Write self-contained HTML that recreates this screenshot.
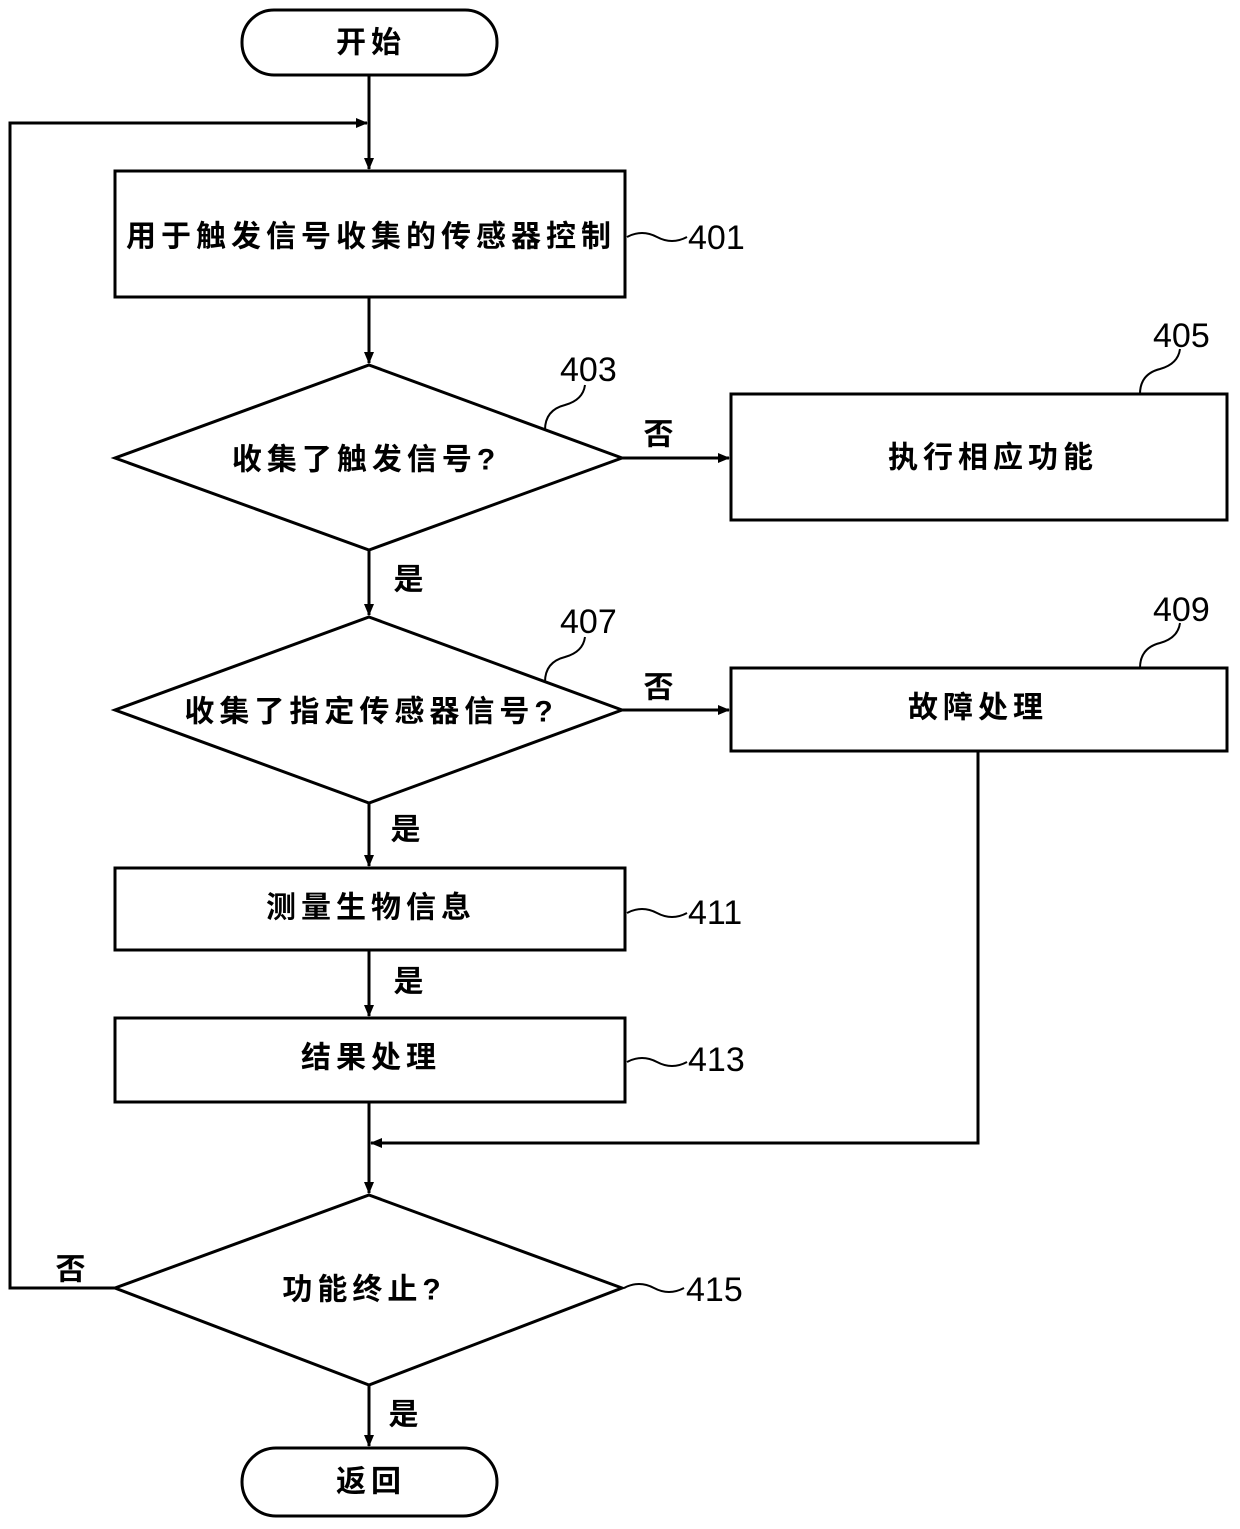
<!DOCTYPE html>
<html><head><meta charset="utf-8"><style>
html,body{margin:0;padding:0;background:#fff;}
svg{display:block;}
text{font-family:"Liberation Sans","Noto Sans CJK SC",sans-serif;fill:#000;}
.cn{font-size:30px;text-anchor:middle;dominant-baseline:central;letter-spacing:5px;font-weight:bold;}
.num{font-size:34px;font-family:"Liberation Sans",sans-serif;dominant-baseline:central;}
</style></head><body>
<svg width="1240" height="1529" viewBox="0 0 1240 1529" xmlns="http://www.w3.org/2000/svg">
<defs><marker id="a" markerWidth="12" markerHeight="10" refX="11" refY="5" orient="auto" markerUnits="userSpaceOnUse"><path d="M0,0 L12,5 L0,10 Z" fill="#000"/></marker></defs>
<g fill="none" stroke="#000" stroke-width="3">
<rect x="242" y="10" width="255" height="65" rx="32"/>
<rect x="242" y="1448" width="255" height="68" rx="34"/>
<rect x="115" y="171" width="510" height="126"/>
<rect x="731" y="394" width="496" height="126"/>
<rect x="731" y="668" width="496" height="83"/>
<rect x="115" y="868" width="510" height="82"/>
<rect x="115" y="1018" width="510" height="84"/>
<polygon points="369,365 622,458 369,550 115,458"/>
<polygon points="369,617 622,710 369,803 115,710"/>
<polygon points="369,1195 622,1288 369,1385 115,1288"/>
<line x1="369" y1="75" x2="369" y2="169" marker-end="url(#a)"/>
<polyline points="115,1288 10,1288 10,123 367,123" marker-end="url(#a)"/>
<line x1="369" y1="297" x2="369" y2="363" marker-end="url(#a)"/>
<line x1="369" y1="550" x2="369" y2="615" marker-end="url(#a)"/>
<line x1="622" y1="458" x2="729" y2="458" marker-end="url(#a)"/>
<line x1="622" y1="710" x2="729" y2="710" marker-end="url(#a)"/>
<line x1="369" y1="803" x2="369" y2="866" marker-end="url(#a)"/>
<line x1="369" y1="950" x2="369" y2="1016" marker-end="url(#a)"/>
<line x1="369" y1="1102" x2="369" y2="1193" marker-end="url(#a)"/>
<polyline points="978,751 978,1143 371,1143" marker-end="url(#a)"/>
<line x1="369" y1="1385" x2="369" y2="1446" marker-end="url(#a)"/>
<g stroke-width="2">
<path d="M627,237 q15,-8 30,0 t30,0"/>
<path d="M627,913 q15,-8 30,0 t30,0"/>
<path d="M627,1062 q15,-8 30,0 t30,0"/>
<path d="M624,1288 q15,-8 30,0 t30,0"/>
<path d="M545,430 q0,-20 20,-25 q18,-5 20,-20"/>
<path d="M545,682 q0,-20 20,-25 q18,-5 20,-20"/>
<path d="M1140,394 q0,-20 20,-25 q18,-5 20,-20"/>
<path d="M1140,668 q0,-20 20,-25 q18,-5 20,-20"/>
</g>
</g>
<text class="cn" x="371" y="237">用于触发信号收集的传感器控制</text>
<text class="cn" x="371" y="43">开始</text>
<text class="cn" x="371" y="1482">返回</text>
<text class="cn" x="366" y="460">收集了触发信号?</text>
<text class="cn" x="371" y="712">收集了指定传感器信号?</text>
<text class="cn" x="993" y="458">执行相应功能</text>
<text class="cn" x="978" y="708">故障处理</text>
<text class="cn" x="371" y="908">测量生物信息</text>
<text class="cn" x="371" y="1058">结果处理</text>
<text class="cn" x="364" y="1290">功能终止?</text>
<text class="cn" x="661" y="435">否</text>
<text class="cn" x="661" y="688">否</text>
<text class="cn" x="73" y="1270">否</text>
<text class="cn" x="411" y="580">是</text>
<text class="cn" x="408" y="830">是</text>
<text class="cn" x="411" y="982">是</text>
<text class="cn" x="406" y="1415">是</text>
<text class="num" x="688" y="238">401</text>
<text class="num" x="560" y="370">403</text>
<text class="num" x="1153" y="336">405</text>
<text class="num" x="560" y="622">407</text>
<text class="num" x="1153" y="610">409</text>
<text class="num" x="688" y="913">411</text>
<text class="num" x="688" y="1060">413</text>
<text class="num" x="686" y="1290">415</text>
</svg>
</body></html>
